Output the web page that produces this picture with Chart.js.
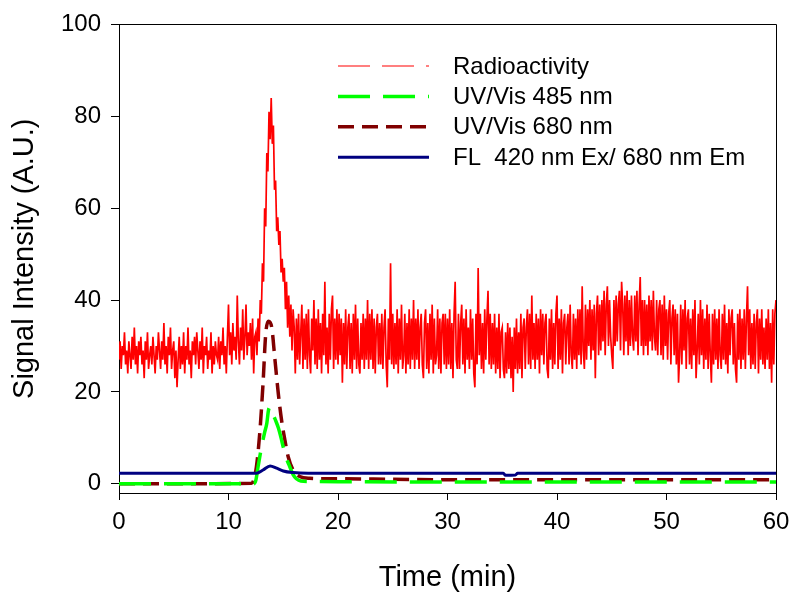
<!DOCTYPE html>
<html>
<head>
<meta charset="utf-8">
<script src="https://cdn.jsdelivr.net/npm/chart.js@4.4.1/dist/chart.umd.min.js"></script>
<style>
html,body{margin:0;padding:0;background:#fff;}
#wrap{width:800px;height:605px;position:relative;}
</style>
</head>
<body>
<div id="wrap"><canvas id="c" width="800" height="605"></canvas></div>
<script>
// ---------------- DATA ----------------
const seriesNames = ['Radioactivity', 'UV/Vis 485 nm', 'UV/Vis 680 nm', 'FL  420 nm Ex/ 680 nm Em'];
const xTicks = [0, 10, 20, 30, 40, 50, 60];
const yTicks = [0, 20, 40, 60, 80, 100];

// Radioactivity trace, sampled every 0.1 min from 0 to 60 min (one row per minute)
const RADIO_STEP = 0.1;
const radioactivity = [
  27,31,25,30,28,33,26,29,24,31,
  28,25,32,27,34,26,30,24,31,28,
  32,26,29,23,31,27,33,25,28,30,
  26,32,28,24,30,27,33,29,25,31,
  27,35,26,30,24,32,28,34,25,29,
  31,23,29,21,27,32,25,30,26,33,
  24,30,27,34,26,29,23,31,28,32,
  26,33,29,25,31,27,34,24,30,28,
  32,25,29,27,33,24,30,26,31,28,
  27,32,25,31,28,34,26,30,24,32,
  39,28,33,26,35,29,32,27,41,31,
  26,34,29,38,27,32,39,28,33,30,
  35,27,36,24,32,33,28,36,31,40,
  37,48,44,60,56,72,68,81,75,84,
  74,78,64,66,55,58,52,55,46,49,
  44,47,38,44,34,41,32,39,29,38,
  34,24,36,27,37,26,33,39,25,36,
  27,37,25,38,28,24,36,29,40,26,
  36,25,38,27,35,24,37,28,44,26,
  34,24,37,27,38,41,25,36,27,38,
  26,37,28,36,22,35,26,38,25,34,
  37,25,35,24,37,27,39,25,36,26,
  24,35,27,37,25,36,27,40,25,37,
  27,38,25,36,24,34,37,26,35,26,
  37,25,34,38,26,21,36,27,48,26,
  37,25,35,26,38,24,36,27,39,25,
  28,37,24,35,26,38,25,36,27,40,
  25,36,27,38,25,34,37,26,23,35,
  38,25,35,24,37,27,39,24,36,26,
  28,38,25,36,24,35,37,26,37,25,
  36,26,38,25,35,23,37,44,27,25,
  37,25,35,39,26,36,24,38,27,34,
  25,38,27,36,24,21,37,26,47,28,
  37,25,35,24,38,27,36,42,26,37,
  25,35,26,37,24,34,25,37,23,33,
  34,25,23,33,24,35,25,34,23,32,
  20,34,25,36,24,33,25,37,23,34,
  36,25,34,38,26,37,25,41,27,35,
  25,37,27,36,24,38,28,37,26,35,
  37,25,23,36,27,38,25,35,26,37,
  41,25,36,27,38,24,35,37,26,34,
  37,26,39,28,25,37,27,36,25,38,
  28,38,26,43,29,25,39,27,38,30,
  40,27,38,29,39,23,37,41,28,39,
  29,40,31,42,28,39,43,30,40,32,
  28,25,40,30,41,31,39,42,29,44,
  39,28,41,31,42,28,40,30,41,32,
  29,41,31,42,28,39,45,30,40,28,
  40,30,39,28,41,31,40,29,42,32,
  29,40,28,38,40,28,39,27,41,30,
  38,27,37,40,26,36,39,28,38,26,
  37,22,28,39,26,38,29,40,25,36,
  38,26,36,25,38,28,40,23,29,37,
  26,40,28,38,25,36,27,39,25,37,
  28,22,37,26,38,27,36,25,38,28,
  25,37,27,39,26,35,24,38,28,36,
  38,26,35,25,22,37,27,38,25,36,
  27,38,25,36,43,28,38,25,35,26,
  37,25,35,38,24,36,27,38,26,34,
  25,36,27,38,25,35,22,38,26,37,
  40
];

const uv485Time = [0, 12.3, 12.5, 12.7, 12.9, 13.1, 13.3, 13.5, 13.65, 13.8, 13.95, 14.1, 14.3, 14.55, 14.8, 15.0, 15.3, 15.6, 15.9, 16.2, 16.6, 17.5, 20, 30, 40, 50, 60];
const uv485     = [0, 0,    0.8,  3.7,  6.5,  9,    11.2, 13.2, 16.0,  16.7, 16.3,  15,   13.8, 12.2,  10,   8,    5.5,  3.7,  2.0,  1.1,  0.6,  0.5,  0.45, 0.4, 0.4, 0.4, 0.4];

const uv680Time = [0, 12.1, 12.25, 12.55, 12.85, 13.15, 13.4, 13.65, 13.95, 14.25, 14.55, 14.85, 15.15, 15.45, 15.9, 16.5, 17.4, 20, 30, 40, 50, 60];
const uv680     = [0, 0.1,  0.5,   3.7,   10.9,  21.7,  32.6, 35.4,  34,    26.8,  19.6,  13.8,  9.5,   5.9,   3,    1.6,  1.2,  1.1, 0.9, 0.9, 0.9, 0.9];

const flTime = [0,   12.55, 13.15, 13.8, 14.4, 15.0, 15.9, 17.3, 35.1, 35.3, 36.2, 36.4, 60];
const fl     = [2.3, 2.3,   3.0,   3.9,  3.4,  2.8,  2.45, 2.3,  2.3,  1.85, 1.9,  2.3,  2.3];

// ---------------- STYLES ----------------
const FONT = "'Liberation Sans', Arial, Helvetica, sans-serif";
const styles = [
  {color: '#ff0000', width: 1.7, legendWidth: 1.2, dash: [32, 12], order: 3},
  {color: '#00ff00', width: 3.5, legendWidth: 3.5, dash: [32, 13], order: 1},
  {color: '#800000', width: 3.5, legendWidth: 3.5, dash: [16, 8],  order: 2},
  {color: '#000080', width: 3,   legendWidth: 3,   dash: [],       order: 0}
];

const toXY = (ts, vs) => vs.map((v, i) => ({x: ts[i], y: v}));
const radioTime = radioactivity.map((_, i) => Math.round(i * RADIO_STEP * 10) / 10);

const datasets = [
  {label: seriesNames[0], data: toXY(radioTime, radioactivity), borderColor: styles[0].color, borderWidth: styles[0].width, order: styles[0].order, tension: 0, borderJoinStyle: 'miter'},
  {label: seriesNames[1], data: toXY(uv485Time, uv485), borderColor: styles[1].color, borderWidth: styles[1].width, borderDash: styles[1].dash, order: styles[1].order, cubicInterpolationMode: 'monotone'},
  {label: seriesNames[2], data: toXY(uv680Time, uv680), borderColor: styles[2].color, borderWidth: styles[2].width, borderDash: styles[2].dash, order: styles[2].order, cubicInterpolationMode: 'monotone'},
  {label: seriesNames[3], data: toXY(flTime, fl), borderColor: styles[3].color, borderWidth: styles[3].width, order: styles[3].order, cubicInterpolationMode: 'monotone'}
];

const framePlugin = {
  id: 'frame',
  afterDraw(chart) {
    const {ctx, chartArea: a} = chart;
    ctx.save();
    ctx.strokeStyle = '#000';
    ctx.lineWidth = 1;
    ctx.beginPath();
    ctx.moveTo(Math.round(a.left) + 0.5, Math.round(a.top) + 0.5);
    ctx.lineTo(Math.round(a.right) + 0.5, Math.round(a.top) + 0.5);
    ctx.lineTo(Math.round(a.right) + 0.5, Math.round(a.bottom) + 0.5);
    ctx.stroke();
    ctx.restore();
  }
};

const legendPlugin = {
  id: 'insideLegend',
  afterDraw(chart) {
    const {ctx} = chart;
    const x0 = 338, x1 = 429, tx = 453, y0 = 66, dy = 30.4;
    ctx.save();
    seriesNames.forEach((name, i) => {
      const y = y0 + i * dy;
      const s = styles[i];
      ctx.strokeStyle = s.color;
      ctx.lineWidth = s.legendWidth;
      ctx.setLineDash(s.dash);
      ctx.lineCap = 'butt';
      ctx.beginPath();
      ctx.moveTo(x0, y);
      ctx.lineTo(x1, y);
      ctx.stroke();
      ctx.setLineDash([]);
      ctx.fillStyle = '#000';
      ctx.font = '24px ' + FONT;
      ctx.textAlign = 'left';
      ctx.textBaseline = 'middle';
      ctx.fillText(name, tx, y + 1);
    });
    ctx.restore();
  }
};

new Chart(document.getElementById('c'), {
  type: 'line',
  data: {datasets},
  options: {
    responsive: false,
    animation: false,
    devicePixelRatio: 1,
    parsing: false,
    normalized: true,
    layout: {padding: {left: 0, right: 24, top: 21, bottom: 0}},
    elements: {point: {radius: 0, hoverRadius: 0}, line: {fill: false}},
    plugins: {legend: {display: false}, tooltip: {enabled: false}, title: {display: false}},
    events: [],
    scales: {
      x: {
        type: 'linear',
        min: 0, max: 60,
        afterBuildTicks: s => { s.ticks = xTicks.map(v => ({value: v})); },
        afterFit: s => { s.height = 112; },
        grid: {display: true, drawOnChartArea: false, drawTicks: true, tickLength: 7, color: '#000', lineWidth: 1},
        border: {display: true, color: '#000', width: 1},
        ticks: {color: '#000', font: {family: FONT, size: 24}, padding: 8, maxRotation: 0, autoSkip: false},
        title: {display: true, text: 'Time (min)', color: '#000', font: {family: FONT, size: 29}, padding: {top: 0, bottom: 10}}
      },
      y: {
        type: 'linear',
        min: -2, max: 100,
        afterBuildTicks: s => { s.ticks = yTicks.map(v => ({value: v})); },
        afterFit: s => { s.width = 119; },
        grid: {display: true, drawOnChartArea: false, drawTicks: true, tickLength: 8, color: '#000', lineWidth: 1},
        border: {display: true, color: '#000', width: 1},
        ticks: {color: '#000', font: {family: FONT, size: 24}, padding: 10, autoSkip: false},
        title: {display: true, text: 'Signal Intensity (A.U.)', color: '#000', font: {family: FONT, size: 29}, padding: {top: 8, bottom: 0}}
      }
    }
  },
  plugins: [framePlugin, legendPlugin]
});
</script>
</body>
</html>
